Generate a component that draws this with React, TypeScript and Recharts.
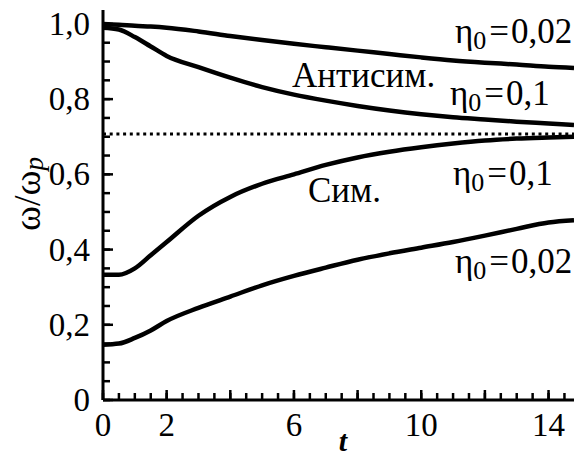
import { LineChart, Line, XAxis, YAxis, ReferenceLine } from "recharts";

const times = [0, 0.5, 1, 1.5, 2, 3, 4, 5, 6, 7, 8, 9, 10, 11, 12, 13, 14, 14.8];
const antisym002 = [1.0, 0.998, 0.995, 0.993, 0.99, 0.98, 0.968, 0.957, 0.947, 0.938, 0.929, 0.92, 0.911, 0.903, 0.897, 0.892, 0.886, 0.883];
const antisym01 = [0.99, 0.985, 0.965, 0.94, 0.915, 0.885, 0.857, 0.832, 0.812, 0.796, 0.782, 0.77, 0.76, 0.752, 0.746, 0.74, 0.735, 0.731];
const sym01 = [0.333, 0.333, 0.35, 0.385, 0.42, 0.49, 0.54, 0.575, 0.6, 0.625, 0.645, 0.66, 0.672, 0.682, 0.69, 0.695, 0.698, 0.7];
const sym002 = [0.147, 0.15, 0.165, 0.185, 0.21, 0.245, 0.275, 0.305, 0.33, 0.352, 0.373, 0.39, 0.405, 0.42, 0.437, 0.455, 0.472, 0.478];
const limitValue = 0.707;

const xMax = 14.8;
const yMax = 1.037;
const xMinor = Array.from({ length: 30 }, (_, i) => i * 0.5);
const xLabels = [0, 2, 6, 10, 14];
const yMinor = Array.from({ length: 21 }, (_, i) => Math.round(i * 5) / 100);
const yLabels = [0, 0.2, 0.4, 0.6, 0.8, 1.0];

const data = times.map((t, i) => ({
  t,
  a002: antisym002[i],
  a01: antisym01[i],
  s01: sym01[i],
  s002: sym002[i],
}));

const FONT = "'Liberation Serif', 'Times New Roman', serif";

// chart frame (must agree with the margins / axis sizes below)
const W = 574;
const H = 459;
const LEFT = 103;
const TOP = 10;
const BOTTOM_H = 59;
const TICK = 7;
const plotW = W - LEFT;
const plotH = H - TOP - BOTTOM_H;
const px = (v: number) => LEFT + (v / xMax) * plotW;
const py = (v: number) => TOP + plotH - (v / yMax) * plotH;

function fmt(v: number): string {
  if (v === 0) return "0";
  return v.toFixed(1).replace(".", ",");
}

function XTick(props: any) {
  const { x, y, payload } = props;
  const v = payload.value;
  if (!xLabels.some((l) => Math.abs(l - v) < 1e-6)) return <g />;
  return (
    <text x={x} y={y + TICK + 36} textAnchor="middle" fontFamily={FONT} fontSize={33} fill="#000">
      {v}
    </text>
  );
}

function YTick(props: any) {
  const { x, y, payload } = props;
  const v = payload.value;
  if (!yLabels.some((l) => Math.abs(l - v) < 1e-6)) return <g />;
  return (
    <text x={x - TICK - 13} y={y + 11} textAnchor="end" fontFamily={FONT} fontSize={33} fill="#000">
      {fmt(v)}
    </text>
  );
}

function Eta({ x, y, value }: { x: number; y: number; value: string }) {
  return (
    <text x={x} y={y} fontFamily={FONT} fontSize={35} fill="#000">
      η
      <tspan fontSize={26} dy={6}>0</tspan>
      <tspan dx={3} dy={-6}>=</tspan>
      <tspan dx={2}>{value}</tspan>
    </text>
  );
}

// longer marks at the labelled positions
function MajorMarks() {
  return (
    <svg width={W} height={H} style={{ position: "absolute", left: 0, top: 0, pointerEvents: "none" }}>
      {xMinor
        .filter((v) => Math.abs(v - Math.round(v / 2) * 2) < 1e-6)
        .map((v) => (
          <line key={`xt-${v}`} x1={px(v)} y1={py(0)} x2={px(v)} y2={py(0) - 10} stroke="#000" strokeWidth={2.5} />
        ))}
      {yLabels.map((v) => (
        <line key={`yt-${v}`} x1={px(0)} y1={py(v)} x2={px(0) + 10} y2={py(v)} stroke="#000" strokeWidth={2.5} />
      ))}
    </svg>
  );
}

export default function App() {
  return (
    <div style={{ position: "fixed", left: 0, top: 0, width: W, height: H, background: "#fff" }}>
      <LineChart width={W} height={H} data={data} margin={{ top: TOP, right: 0, left: 0, bottom: 0 }}>
        <XAxis
          dataKey="t"
          type="number"
          domain={[0, xMax]}
          ticks={xMinor}
          interval={0}
          tick={<XTick />}
          tickLine={{ stroke: "#000", strokeWidth: 2.5 }}
          tickSize={-TICK}
          tickMargin={0}
          height={BOTTOM_H}
          axisLine={{ stroke: "#000", strokeWidth: 3 }}
        />
        <YAxis
          type="number"
          domain={[0, yMax]}
          ticks={yMinor}
          interval={0}
          tick={<YTick />}
          tickLine={{ stroke: "#000", strokeWidth: 2.5 }}
          tickSize={-TICK}
          tickMargin={0}
          width={LEFT}
          axisLine={{ stroke: "#000", strokeWidth: 3 }}
        />
        <ReferenceLine y={limitValue} stroke="#000" strokeWidth={3} strokeDasharray="3 3.7" />
        <Line dataKey="a002" type="monotone" stroke="#000" strokeWidth={4.5} dot={false} isAnimationActive={false} />
        <Line dataKey="a01" type="monotone" stroke="#000" strokeWidth={4.5} dot={false} isAnimationActive={false} />
        <Line dataKey="s01" type="monotone" stroke="#000" strokeWidth={4.5} dot={false} isAnimationActive={false} />
        <Line dataKey="s002" type="monotone" stroke="#000" strokeWidth={4.5} dot={false} isAnimationActive={false} />
        <text x={40} y={194} transform="rotate(-90 40 194)" textAnchor="middle" fontFamily={FONT} fontSize={38} fill="#000">
          ω/ω
          <tspan fontSize={27} fontStyle="italic" dy={3}>p</tspan>
        </text>
        <text x={343} y={451} textAnchor="middle" fontFamily={FONT} fontSize={30} fontStyle="italic" fontWeight="bold" fill="#000">
          t
        </text>
        <Eta x={455} y={43} value="0,02" />
        <text x={292} y={87} fontFamily={FONT} fontSize={35} fill="#000">Антисим.</text>
        <Eta x={450} y={105} value="0,1" />
        <Eta x={453} y={185} value="0,1" />
        <text x={308} y={202} fontFamily={FONT} fontSize={35} fill="#000">Сим.</text>
        <Eta x={455} y={273} value="0,02" />
      </LineChart>
      <MajorMarks />
    </div>
  );
}
